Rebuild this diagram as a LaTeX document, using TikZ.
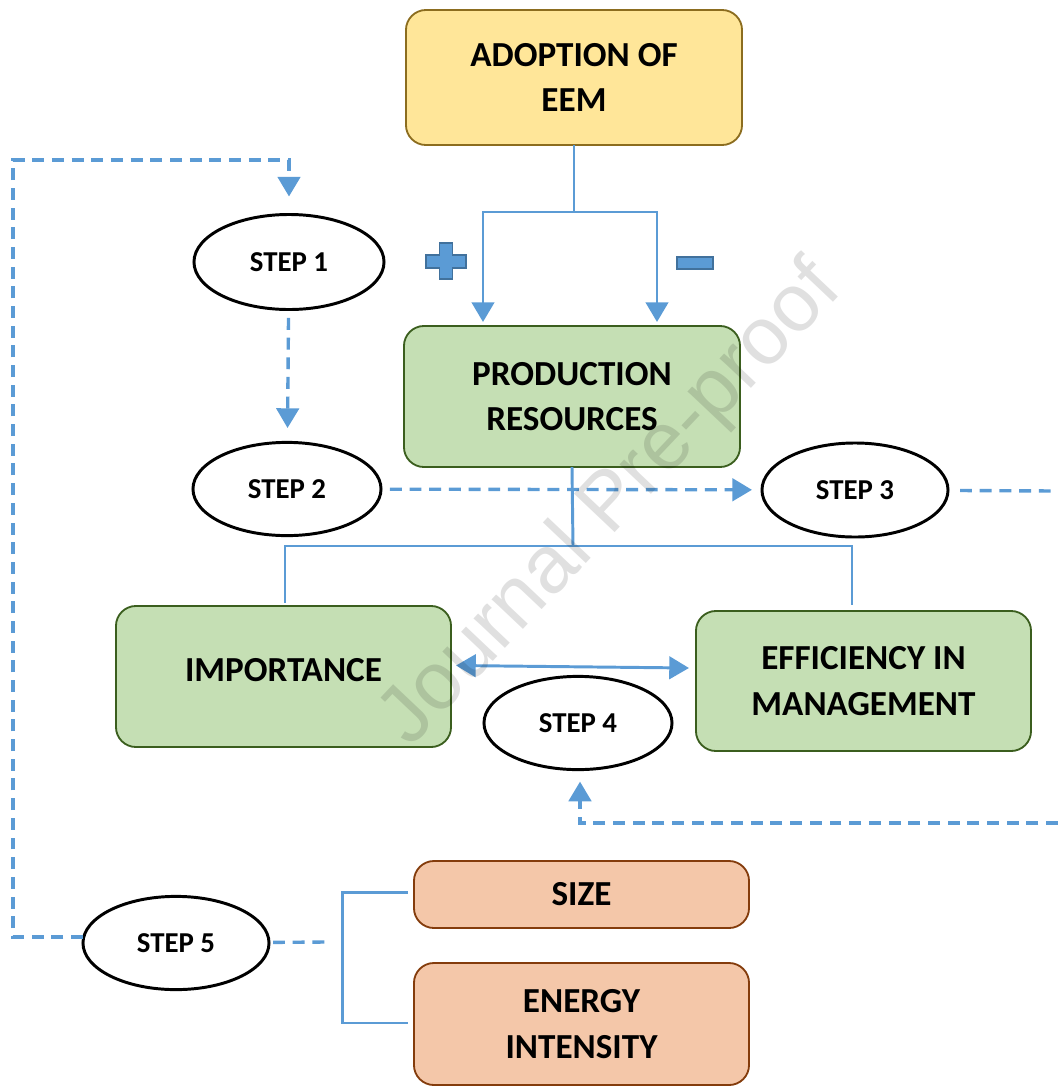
\documentclass[tikz,border=0pt]{standalone}
\usepackage{fontspec}
\setmainfont{Carlito}
\newfontfamily\markfont{Liberation Sans}
\usetikzlibrary{arrows.meta,calc,shapes.geometric}

\definecolor{lineblue}{HTML}{5B9BD5}
\definecolor{signblue}{HTML}{41719C}
\definecolor{adoptfill}{HTML}{FFE699}
\definecolor{adoptdraw}{HTML}{8C6D1F}
\definecolor{greenfill}{HTML}{C5DFB4}
\definecolor{greendraw}{HTML}{3B5E1E}
\definecolor{orangefill}{HTML}{F4C7A9}
\definecolor{orangedraw}{HTML}{843C0C}

\tikzset{
  box/.style={draw, rounded corners=0.5cm, line width=1.3pt, inner sep=0pt, outer sep=0pt,
    align=center, font=\fontsize{25}{32.5}\selectfont\bfseries, minimum width=8.375cm},
  adoptbox/.style={box, fill=adoptfill, draw=adoptdraw},
  greenbox/.style={box, fill=greenfill, draw=greendraw},
  orangebox/.style={box, fill=orangefill, draw=orangedraw},
  stepoval/.style={ellipse, draw, line width=2.1pt, fill=white, inner sep=0pt, outer sep=0pt,
    minimum width=4.7cm, minimum height=2.33cm, font=\fontsize{20.5}{24}\selectfont\bfseries},
  link/.style={draw=lineblue, line width=2.1pt},
  linkarrow/.style={link, -{Triangle[width=16pt,length=14pt]}},
  twoarrow/.style={link, {Triangle[width=16pt,length=14pt]}-{Triangle[width=16pt,length=14pt]}},
  dashlink/.style={link, line width=2.4pt, dash pattern=on 8.5pt off 5.5pt},
  dasharrow/.style={dashlink, -{Triangle[width=16pt,length=14pt]}},
}

\begin{document}
\begin{tikzpicture}[x=0.025cm, y=-0.025cm]
\useasboundingbox (0,0) rectangle (1058,1086);

% boxes
\node[adoptbox, minimum width=8.4cm, minimum height=3.375cm] (adopt) at (574,77.5) {ADOPTION OF\\EEM};
\node[greenbox, minimum width=8.4cm, minimum height=3.525cm] (prod) at (572,396.5) {PRODUCTION\\RESOURCES};
\node[greenbox, minimum height=3.525cm] (imp) at (283.5,676.5) {\raisebox{0.35cm}{IMPORTANCE}};
\node[greenbox, minimum height=3.5cm] (eff) at (863.5,681) {EFFICIENCY IN\\MANAGEMENT};
\node[orangebox, minimum height=1.675cm] (size) at (581.5,894.5) {SIZE};
\node[orangebox, minimum height=3.05cm] (energy) at (581.5,1024) {ENERGY\\INTENSITY};

% steps
\node[stepoval, minimum width=4.75cm, minimum height=2.375cm] (step1) at (289,262) {STEP 1};
\node[stepoval] (step2) at (287,489) {STEP 2};
\node[stepoval, minimum width=4.65cm, minimum height=2.35cm] (step3) at (855,490) {STEP 3};
\node[stepoval] (step4) at (578,723) {STEP 4};
\node[stepoval, minimum width=4.65cm] (step5) at (176,943) {STEP 5};

\coordinate (fork1) at (574,212);
\coordinate (fork2) at (573,546);
\coordinate (looptop) at (13,160);
\coordinate (loopbot) at (13,937);
\coordinate (exit3) at (1058,491);
\coordinate (entry4) at (1058,823);
\coordinate (stub5) at (328,942);

% solid links
\draw[link] (adopt.south) -- (fork1);
\draw[linkarrow] (fork1) -| ($(prod.north)+(-89,-4)$);
\draw[linkarrow] (fork1) -| ($(prod.north)+(85,-4)$);
\draw[link] (prod.south) -- (fork2);
\draw[link] (fork2) -| ($(imp.north)+(1.5,-3)$);
\draw[link] (fork2) -| ($(eff.north)+(-11.5,-6)$);
\draw[twoarrow] ($(imp.east)+(5,-11)$) -- ($(eff.west)+(-7,-13)$);
\draw[link] ($(size.west)+(-6,-2)$) -- ++(-65,0) |- ($(energy.west)+(-6,-1)$);

% dashed links
\draw[dasharrow] ($(step5.west)+(0,-6)$) -- (loopbot) -- (looptop) -| ($(step1.north)+(0,-18)$);
\draw[dasharrow, shorten <=0.21cm, shorten >=0.36cm] (step1) -- (step2);
\draw[dasharrow, shorten <=0.22cm, shorten >=0.25cm] (step2) -- (step3);
\draw[dashlink, shorten <=0.3cm] (step3) -- (exit3);
\draw[dasharrow] (entry4) -| ($(step4.south)+(2,12)$);
\draw[dashlink, shorten <=0.1cm] (step5) -- (stub5);

% plus and minus
\filldraw[fill=lineblue, draw=signblue, line width=1pt]
  (439.5,243) -- (452.5,243) -- (452.5,255) -- (466,255) -- (466,268) -- (452.5,268)
  -- (452.5,279) -- (439.5,279) -- (439.5,268) -- (426,268) -- (426,255) -- (439.5,255) -- cycle;
\filldraw[fill=lineblue, draw=signblue, line width=1pt] (677,257) rectangle (713,269);

% watermark
\node[rotate=46.6, text=black, opacity=0.12, font=\markfont\fontsize{58}{58}\selectfont] (mark) at (612,505) {Journal Pre-proof};
\end{tikzpicture}
\end{document}
